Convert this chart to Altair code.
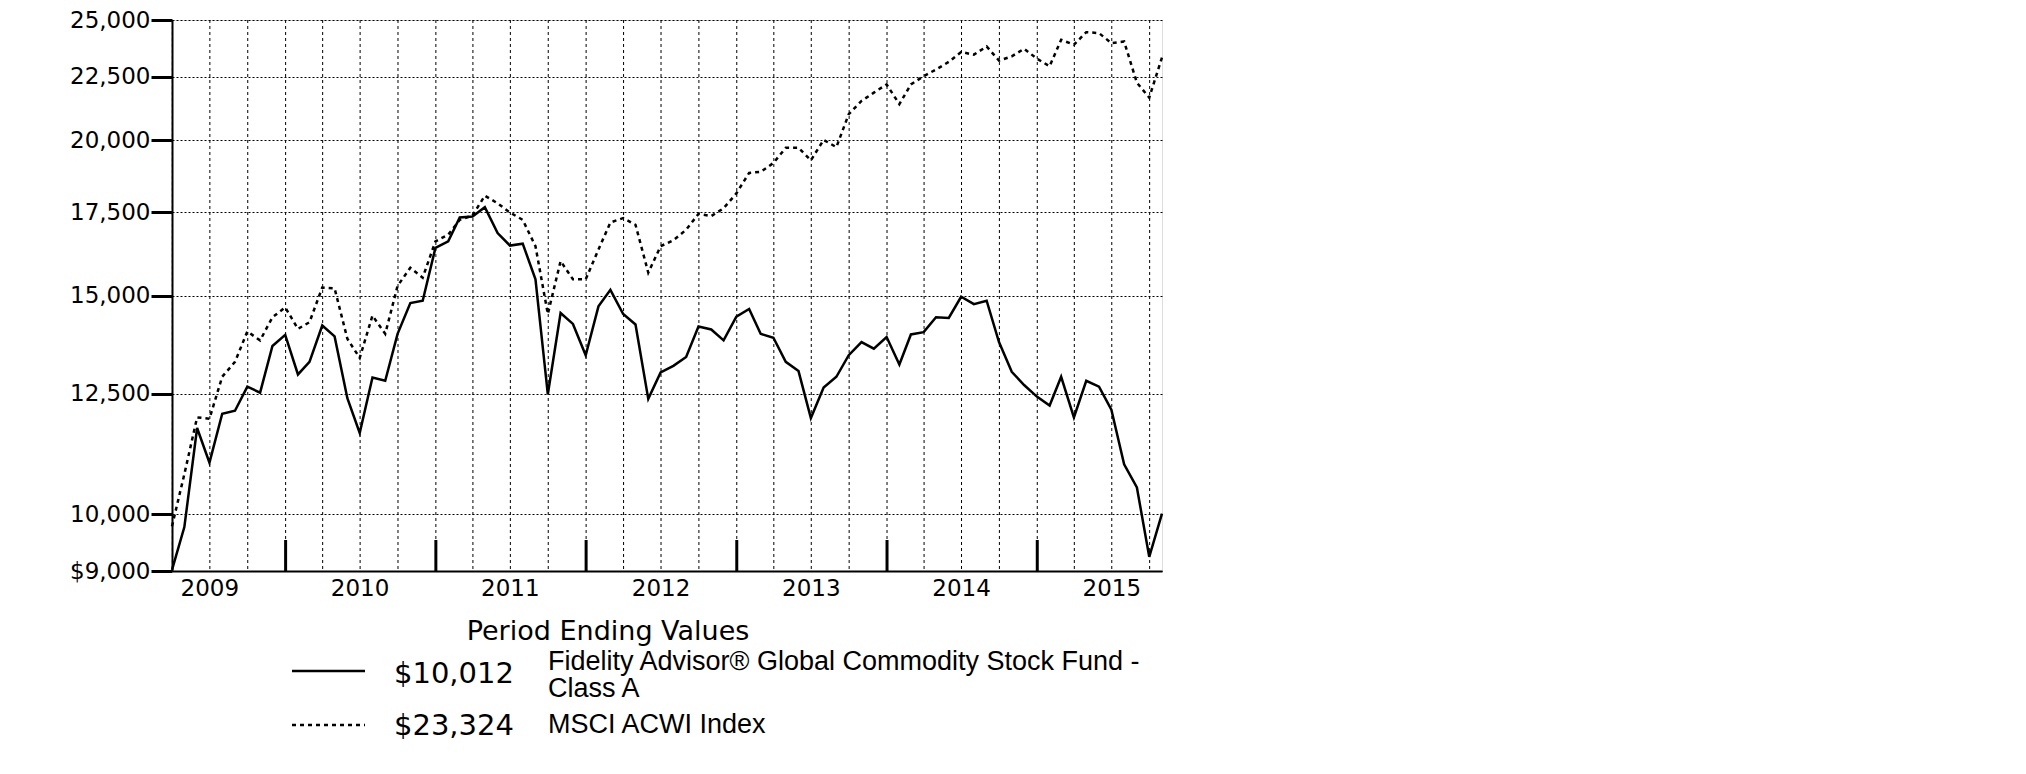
import altair as alt
import pandas as pd

# ---------------- data ----------------
start_month = "2009-03-01"
n_months = 80
fund_name = "Fidelity Advisor\u00ae Global Commodity Stock Fund -"
fund_name2 = "Class A"
index_name = "MSCI ACWI Index"
fund_end_label = "$10,012"
index_end_label = "$23,324"
legend_title = "Period Ending Values"

fund_values = [
    9020, 9763, 11733, 11002, 12047, 12114, 12668, 12528, 13658, 13945,
    12957, 13263, 14188, 13905, 12398, 11625, 12886, 12807, 13971, 14790,
    14855, 16384, 16586, 17336, 17367, 17666, 16842, 16454, 16514, 15457,
    12489, 14521, 14230, 13427, 14701, 15159, 14494, 14214, 12384, 13005,
    13166, 13385, 14161, 14084, 13802, 14424, 14628, 13971, 13869, 13263,
    13038, 11950, 12645, 12902, 13427, 13759, 13591, 13887, 13198, 13955,
    14015, 14406, 14388, 14965, 14763, 14855, 13759, 13021, 12706, 12436,
    12233, 12902, 11966, 12807, 12668, 12137, 10969, 10508, 9240, 10012,
]
index_values = [
    9780, 10769, 11966, 11937, 12902, 13263, 14032, 13802, 14406, 14674,
    14100, 14274, 15224, 15200, 13844, 13361, 14451, 13971, 15270, 15793,
    15505, 16586, 16790, 17259, 17399, 18050, 17796, 17494, 17259, 16435,
    14494, 15989, 15457, 15457, 16334, 17176, 17313, 17101, 15648, 16435,
    16618, 16945, 17451, 17379, 17634, 18126, 18829, 18864, 19178, 19725,
    19725, 19271, 20017, 19750, 20995, 21516, 21850, 22187, 21386, 22187,
    22527, 22806, 23132, 23559, 23444, 23803, 23188, 23371, 23703, 23271,
    22946, 24099, 23879, 24442, 24400, 23953, 24024, 22256, 21650, 23324,
]
y_ticks = [9000, 10000, 12500, 15000, 17500, 20000, 22500, 25000]
label_years = [2009, 2010, 2011, 2012, 2013, 2014, 2015]
year_start_ticks = [2010, 2011, 2012, 2013, 2014, 2015]
quarter_months = [1, 4, 7, 10]

# ---------------- tables ----------------
dates = pd.date_range(start_month, periods=n_months, freq="MS") + pd.offsets.MonthEnd(0)
date_str = list(dates.strftime("%Y-%m-%dT00:00:00"))
fund_df = pd.DataFrame({"date": date_str, "value": fund_values})
index_df = pd.DataFrame({"date": date_str, "value": index_values})
ticks_df = pd.DataFrame({"date": [f"{y}-01-01T00:00:00" for y in year_start_ticks]})
grid_df = pd.DataFrame({"date": [
    f"{y}-{m:02d}-01T00:00:00"
    for y in label_years for m in quarter_months
    if (2009, 4) <= (y, m) <= (2015, 10)
]})
years_df = pd.DataFrame({
    "date": [f"{y}-07-01T00:00:00" for y in label_years],
    "label": [str(y) for y in label_years],
})
legend_df = pd.DataFrame({
    "idx": [0, 1],
    "end": [fund_end_label, index_end_label],
    "name": [fund_name, index_name],
    "name2": [fund_name2, ""],
    "title": [legend_title, legend_title],
})

W, H = 990, 551

x_scale = alt.Scale(domain=["2009-03-31T00:00:00", "2015-10-31T00:00:00"])
y_scale = alt.Scale(type="log", domain=[9000, 25000], nice=False)

x_axis = alt.Axis(
    grid=False, ticks=False, labels=False,
    domainColor="black", domainWidth=2, title=None,
)
y_axis = alt.Axis(
    values=y_ticks,
    labelExpr="datum.value == 9000 ? '$9,000' : format(datum.value, ',')",
    grid=True, gridDash=[2, 2], gridColor="black", gridWidth=1, gridOpacity=1,
    tickSize=21, tickWidth=3, tickColor="black",
    domainColor="black", domainWidth=2,
    labelFont="DejaVu Sans", labelFontSize=23, labelColor="black",
    labelPadding=1, labelOverlap=False, title=None,
)

vgrid = alt.Chart(grid_df).mark_rule(color="black", strokeWidth=1, strokeDash=[3, 3]).encode(
    x=alt.X("date:T", scale=x_scale, axis=x_axis),
    y=alt.value(0),
    y2=alt.value(H),
)
fund_line = alt.Chart(fund_df).mark_line(color="black", strokeWidth=2.5).encode(
    x=alt.X("date:T", scale=x_scale),
    y=alt.Y("value:Q", scale=y_scale, axis=y_axis),
)
index_line = alt.Chart(index_df).mark_line(
    color="black", strokeWidth=2.5, strokeDash=[4, 4]
).encode(
    x=alt.X("date:T", scale=x_scale),
    y=alt.Y("value:Q", scale=y_scale),
)
year_ticks = alt.Chart(ticks_df).mark_rule(color="black", strokeWidth=3).encode(
    x=alt.X("date:T", scale=x_scale),
    y=alt.value(H),
    y2=alt.value(H - 31),
)
year_labels = alt.Chart(years_df).mark_text(
    font="DejaVu Sans", fontSize=23, color="black", align="center", baseline="middle"
).encode(
    x=alt.X("date:T", scale=x_scale),
    y=alt.value(H + 18),
    text="label:N",
)

# ---------------- legend ----------------
def row(i):
    return alt.Chart(legend_df).transform_filter(alt.datum.idx == i)

title_txt = row(0).mark_text(
    font="DejaVu Sans", fontSize=27, color="black", align="center", baseline="middle"
).encode(text="title:N", x=alt.value(436), y=alt.value(612))

sample_solid = row(0).mark_rule(color="black", strokeWidth=2.5).encode(
    x=alt.value(120), x2=alt.value(193), y=alt.value(651))
sample_dot = row(1).mark_rule(color="black", strokeWidth=2.5, strokeDash=[4, 4]).encode(
    x=alt.value(120), x2=alt.value(193), y=alt.value(705))

end0 = row(0).mark_text(font="DejaVu Sans", fontSize=29, color="black",
                        align="left", baseline="middle").encode(
    text="end:N", x=alt.value(222), y=alt.value(654))
end1 = row(1).mark_text(font="DejaVu Sans", fontSize=29, color="black",
                        align="left", baseline="middle").encode(
    text="end:N", x=alt.value(222), y=alt.value(706))

name0a = row(0).mark_text(font="Liberation Sans", fontSize=27, color="black",
                          align="left", baseline="middle").encode(
    text="name:N", x=alt.value(376), y=alt.value(642))
name0b = row(0).mark_text(font="Liberation Sans", fontSize=27, color="black",
                          align="left", baseline="middle").encode(
    text="name2:N", x=alt.value(376), y=alt.value(669))
name1 = row(1).mark_text(font="Liberation Sans", fontSize=27, color="black",
                         align="left", baseline="middle").encode(
    text="name:N", x=alt.value(376), y=alt.value(705))

chart = alt.layer(
    vgrid, fund_line, index_line, year_ticks, year_labels,
    title_txt, sample_solid, sample_dot, end0, end1, name0a, name0b, name1,
).properties(
    width=W,
    height=H,
    padding={"left": 164, "top": 12, "right": 40, "bottom": 180},
    autosize=alt.AutoSizeParams(type="none"),
).configure_view(
    stroke="black", strokeWidth=2
).configure(background="white")

chart.save("out.html", embed_options={"renderer": "svg", "actions": False})
